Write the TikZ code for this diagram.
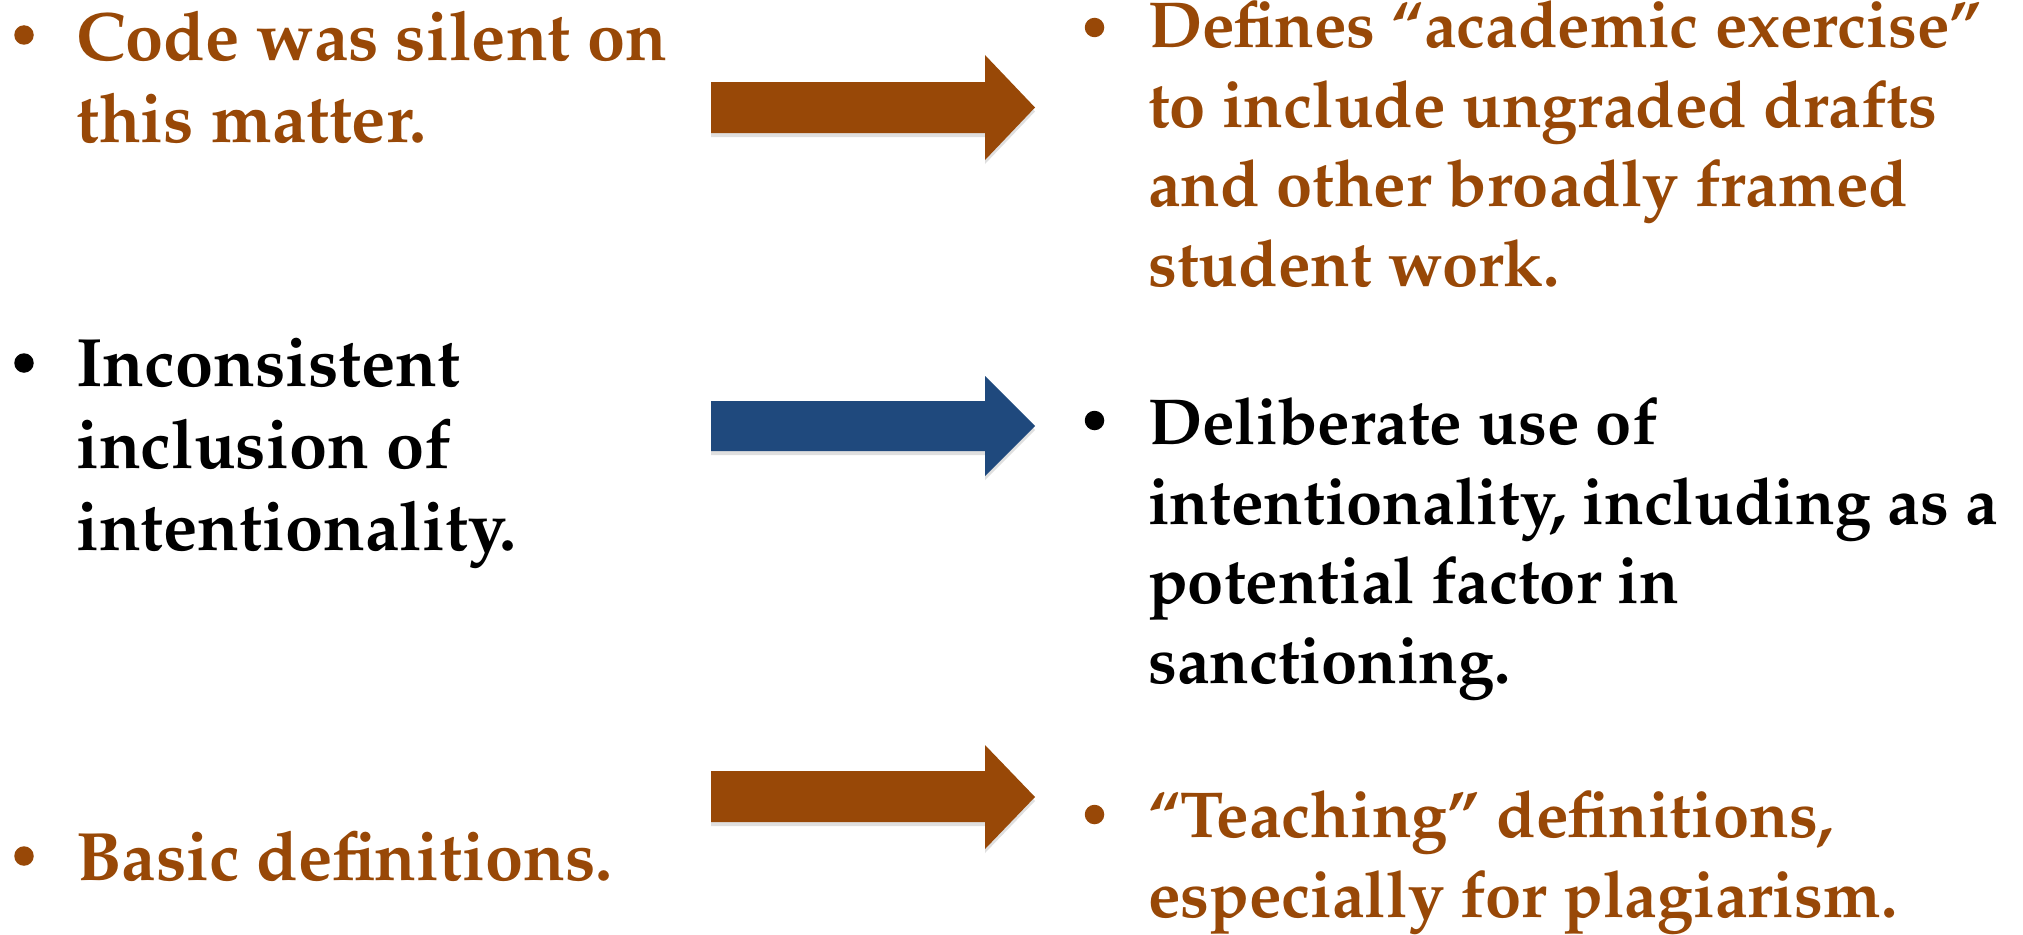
\documentclass[tikz,border=0pt]{standalone}
\usepackage[T1]{fontenc}
\usepackage{mathpazo}
\usetikzlibrary{shadows}
\definecolor{rust}{HTML}{984807}
\definecolor{navy}{HTML}{1F497D}
\begin{document}
\begin{tikzpicture}[x=1pt,y=-1pt,
  % multi-line items are placed by the baseline of their last line
  itemL/.style={anchor=base west, inner sep=0pt, align=left,
    font=\fontsize{68.5}{82}\selectfont\bfseries},
  itemR/.style={anchor=base west, inner sep=0pt, align=left,
    font=\fontsize{65}{79.5}\selectfont\bfseries},
  dot/.style={circle, fill, inner sep=0pt, minimum size=19.5pt},
  blockarrow/.style={drop shadow={opacity=0.25, shadow xshift=0pt, shadow yshift=-4pt}}
]
\useasboundingbox (0,0) rectangle (2023,934);

% block arrows
\path[fill=rust, blockarrow] (711,82) -- (985,82) -- (985,55) -- (1035,107.5)
  -- (985,160) -- (985,133) -- (711,133) -- cycle;
\path[fill=navy, blockarrow] (711,401) -- (985,401) -- (985,376) -- (1035,426)
  -- (985,476) -- (985,451) -- (711,451) -- cycle;
\path[fill=rust, blockarrow] (711,771) -- (985,771) -- (985,745) -- (1035,797)
  -- (985,849) -- (985,822) -- (711,822) -- cycle;

% left column
\node[dot, rust] (bl1) at (24,35) {};
\node[itemL, rust] (l1) at (76,142) {Code was silent on\\this matter.};
\node[dot, black] (bl2) at (24,363) {};
\node[itemL, black] (l2) at (76,550) {Inconsistent\\inclusion of\\intentionality.};
\node[dot, rust] (bl3) at (24,856) {};
\node[itemL, rust] (l3) at (76,880) {Basic definitions.};

% right column
\node[dot, rust] (br1) at (1094.5,27.5) {};
\node[itemR, rust] (r1) at (1148,286) {Defines ``academic exercise''\\to include ungraded drafts\\and other broadly framed\\student work.};
\node[dot, black] (br2) at (1094.5,420.5) {};
\node[itemR, black] (r2) at (1148,683) {Deliberate use of\\intentionality, including as a\\potential factor in\\sanctioning.};
\node[dot, rust] (br3) at (1094.5,814.5) {};
\node[itemR, rust] (r3) at (1148,917) {``Teaching'' definitions,\\especially for plagiarism.};
\end{tikzpicture}
\end{document}
